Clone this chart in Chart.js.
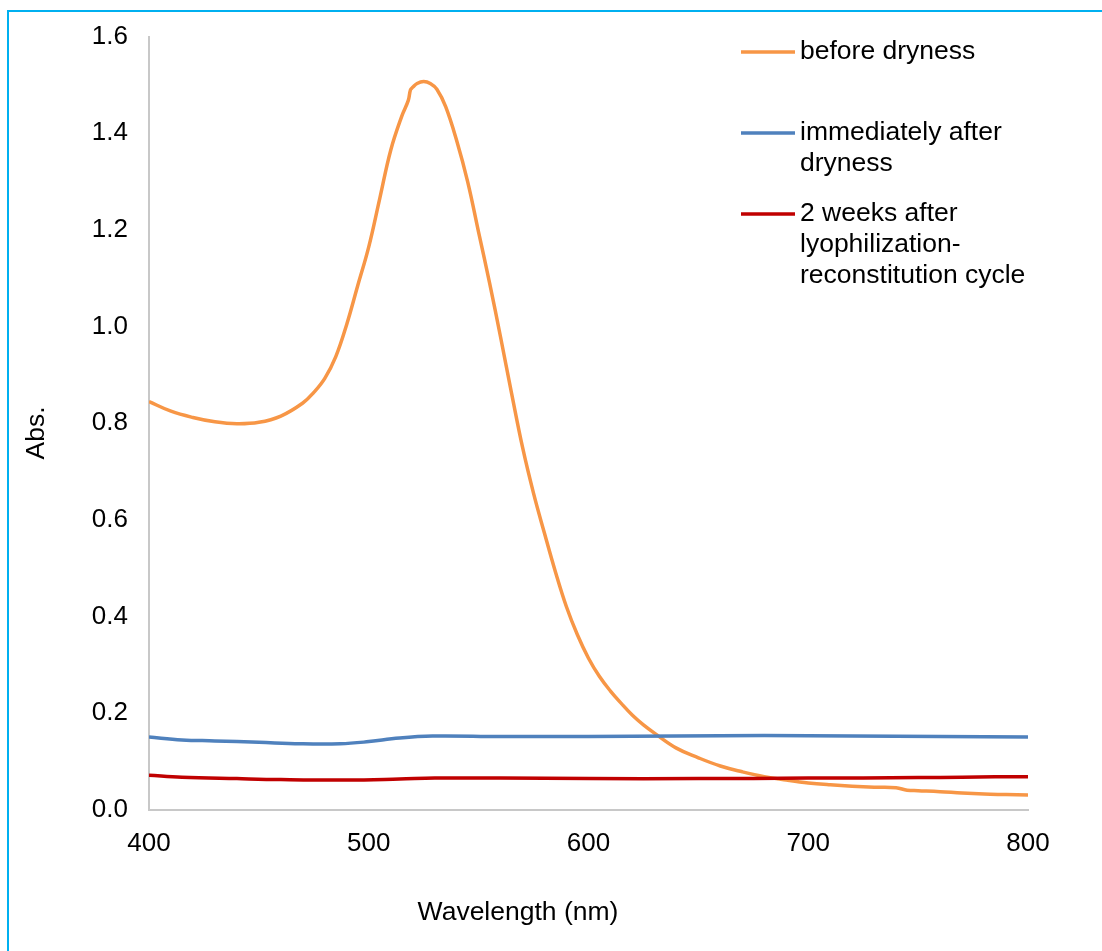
<!DOCTYPE html>
<html>
<head>
<meta charset="utf-8">
<script src="https://cdn.jsdelivr.net/npm/chart.js@4.4.0/dist/chart.umd.min.js"></script>
<style>
  html, body { margin: 0; padding: 0; background: #fff; overflow: hidden; }
  #wrap { position: relative; width: 1102px; height: 951px; }
  #frame { position: absolute; left: 7px; top: 10px; width: 1200px; height: 1100px;
           border: 2px solid #00b0f0; pointer-events: none; }
  canvas { position: absolute; left: 0; top: 0; }
</style>
</head>
<body>
<div id="wrap">
  <canvas id="spectrum" width="1102" height="951"></canvas>
  <div id="frame"></div>
</div>
<script>
// Wavelength grid and absorbance values
const beforeNm = [400, 410, 420, 430, 440, 450, 460, 470, 475, 480, 485, 490, 495, 500, 505, 510, 515, 518, 519, 520, 522, 525, 528, 531, 535, 540, 545, 550, 555, 560, 565, 570, 575, 580, 585, 590, 595, 600, 605, 610, 615, 620, 625, 630, 640, 650, 660, 670, 680, 690, 700, 710, 720, 730, 740, 745, 750, 760, 770, 780, 790, 800];
const beforeAbs = [0.845, 0.825, 0.812, 0.803, 0.799, 0.802, 0.815, 0.842, 0.864, 0.893, 0.938, 1.005, 1.085, 1.165, 1.265, 1.365, 1.435, 1.468, 1.490, 1.495, 1.503, 1.507, 1.503, 1.491, 1.455, 1.385, 1.300, 1.195, 1.090, 0.978, 0.862, 0.750, 0.655, 0.572, 0.492, 0.420, 0.362, 0.314, 0.276, 0.246, 0.220, 0.196, 0.176, 0.159, 0.128, 0.108, 0.091, 0.079, 0.069, 0.062, 0.056, 0.052, 0.049, 0.047, 0.046, 0.041, 0.040, 0.038, 0.035, 0.033, 0.032, 0.031];

const afterNm = [400, 415, 430, 450, 469, 487, 499, 514, 529, 560, 600, 640, 680, 720, 760, 800];
const afterAbs = [0.151, 0.145, 0.143, 0.140, 0.137, 0.137, 0.141, 0.149, 0.153, 0.152, 0.152, 0.153, 0.154, 0.153, 0.152, 0.151];

const weeksNm = [400, 415, 440, 460, 490, 514, 530, 560, 600, 650, 700, 750, 770, 800];
const weeksAbs = [0.072, 0.068, 0.065, 0.063, 0.062, 0.064, 0.066, 0.066, 0.065, 0.065, 0.066, 0.067, 0.068, 0.069];

const seriesLabels = [
  ["before dryness"],
  ["immediately after", "dryness"],
  ["2 weeks after", "lyophilization-", "reconstitution cycle"]
];
const seriesColors = ["#f79646", "#4f81bd", "#c00000"];

const yTicks = [0, 0.2, 0.4, 0.6, 0.8, 1.0, 1.2, 1.4, 1.6];
const xTicks = [400, 500, 600, 700, 800];

const FONT = '"Liberation Sans", Arial, sans-serif';

function toPoints(xs, ys) {
  return xs.map((x, i) => ({ x: x, y: ys[i] }));
}

// Legend and axis titles drawn by hand to match the Excel layout
const overlayPlugin = {
  id: 'overlay',
  afterDraw(chart) {
    const ctx = chart.ctx;
    ctx.save();
    ctx.fillStyle = '#000';
    ctx.font = '26.5px ' + FONT;
    ctx.textBaseline = 'middle';

    const rowsY = [52, 133, 214];
    seriesLabels.forEach((lines, i) => {
      ctx.strokeStyle = seriesColors[i];
      ctx.lineWidth = 3.5;
      ctx.beginPath();
      ctx.moveTo(741, rowsY[i]);
      ctx.lineTo(795, rowsY[i]);
      ctx.stroke();
      ctx.textAlign = 'left';
      lines.forEach((t, j) => ctx.fillText(t, 800, rowsY[i] + j * 31));
    });

    ctx.textAlign = 'center';
    ctx.fillText('Wavelength (nm)', 518, 913);

    ctx.translate(37, 433);
    ctx.rotate(-Math.PI / 2);
    ctx.fillText('Abs.', 0, 0);
    ctx.restore();
  }
};

const ctx = document.getElementById('spectrum').getContext('2d');
new Chart(ctx, {
  type: 'line',
  data: {
    datasets: [
      {
        label: seriesLabels[0].join(' '),
        data: toPoints(beforeNm, beforeAbs),
        borderColor: seriesColors[0],
        order: 2
      },
      {
        label: seriesLabels[1].join(' '),
        data: toPoints(afterNm, afterAbs),
        borderColor: seriesColors[1],
        order: 1
      },
      {
        label: seriesLabels[2].join(' '),
        data: toPoints(weeksNm, weeksAbs),
        borderColor: seriesColors[2],
        order: 1
      }
    ]
  },
  options: {
    responsive: false,
    animation: false,
    devicePixelRatio: 1,
    datasets: {
      line: {
        borderWidth: 3.5,
        pointRadius: 0,
        fill: false,
        tension: 0.4
      }
    },
    layout: { padding: { left: 0, top: 35, right: 74, bottom: 81 } },
    plugins: {
      legend: { display: false },
      tooltip: { enabled: false }
    },
    scales: {
      x: {
        type: 'linear',
        min: 400,
        max: 800,
        afterBuildTicks: s => { s.ticks = xTicks.map(v => ({ value: v })); },
        ticks: {
          color: '#000',
          font: { family: FONT, size: 26 },
          padding: 18,
          maxRotation: 0
        },
        grid: { display: false, drawTicks: false },
        border: { display: true, color: '#c8c8c8', width: 2 },
        afterFit: s => { s.height = 60; }
      },
      y: {
        min: 0,
        max: 1.6,
        afterBuildTicks: s => { s.ticks = yTicks.map(v => ({ value: v })); },
        ticks: {
          color: '#000',
          font: { family: FONT, size: 26 },
          padding: 21,
          callback: v => Number(v).toFixed(1)
        },
        grid: { display: false, drawTicks: false },
        border: { display: true, color: '#c8c8c8', width: 2 },
        afterFit: s => { s.width = 149; }
      }
    }
  },
  plugins: [overlayPlugin]
});
</script>
</body>
</html>
